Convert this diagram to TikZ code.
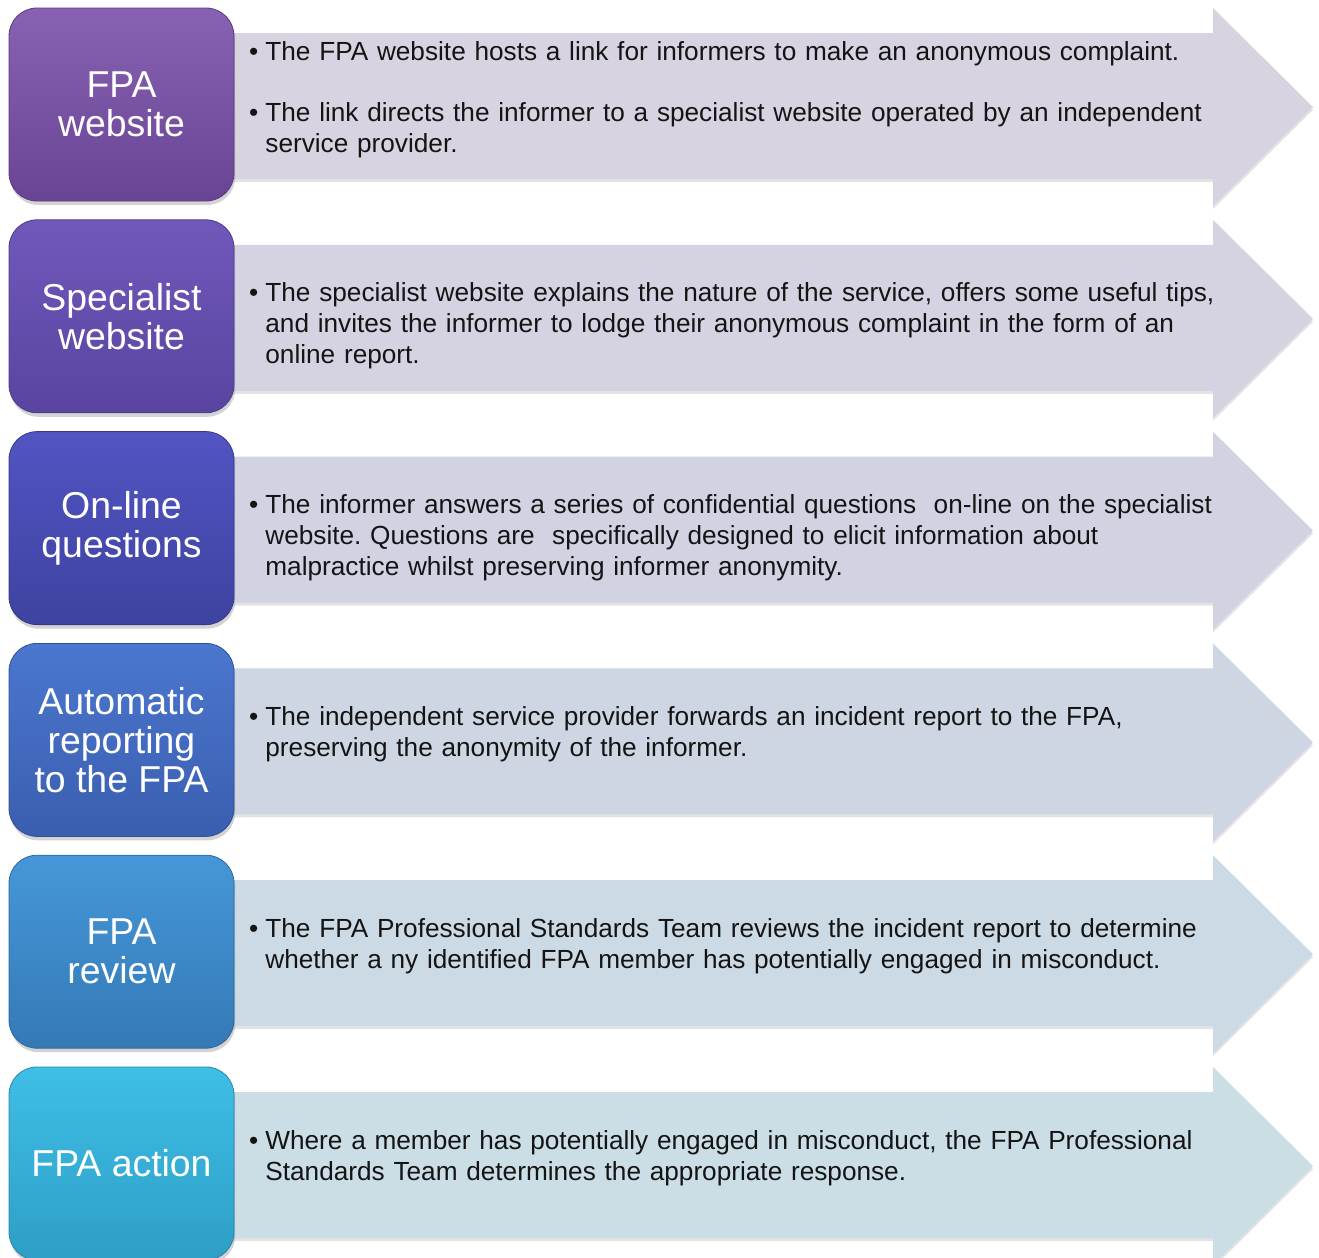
\documentclass[tikz,border=0pt]{standalone}
\usepackage{fontspec}
\setmainfont{Liberation Sans}
\usetikzlibrary{shadows}

% step box gradients (top / bottom) and band fills
\definecolor{boxAt}{HTML}{8762B3}\definecolor{boxAb}{HTML}{6A4494}\definecolor{bandA}{HTML}{D8D3E0}
\definecolor{boxBt}{HTML}{7058BB}\definecolor{boxBb}{HTML}{5945A0}\definecolor{bandB}{HTML}{D5D3E1}
\definecolor{boxCt}{HTML}{5254C3}\definecolor{boxCb}{HTML}{3E43A0}\definecolor{bandC}{HTML}{D1D3E3}
\definecolor{boxDt}{HTML}{4B77CF}\definecolor{boxDb}{HTML}{3A5EAF}\definecolor{bandD}{HTML}{CED6E4}
\definecolor{boxEt}{HTML}{4697D9}\definecolor{boxEb}{HTML}{3479B6}\definecolor{bandE}{HTML}{CCDAE5}
\definecolor{boxFt}{HTML}{3EBFE6}\definecolor{boxFb}{HTML}{2E9EC6}\definecolor{bandF}{HTML}{CBDEE6}

\tikzset{
  stepbox/.style={rounded corners=14pt, minimum width=112.5pt, minimum height=96.5pt,
    inner sep=0pt, align=center, text=white,
    font=\fontsize{18.7}{19.5}\selectfont,
    drop shadow={shadow xshift=0.6pt, shadow yshift=-2pt, opacity=0.35}},
  band/.style={drop shadow={shadow xshift=0pt, shadow yshift=-1.5pt, opacity=0.22}},
  note/.style={anchor=base west, inner sep=0pt, align=left, text width=500pt,
    text=black!92, font=\fontsize{13.1}{15.5}\selectfont\frenchspacing},
}
\newcommand{\bul}{\leavevmode\llap{•\hspace{3.6pt}}}

\begin{document}
\begin{tikzpicture}[x=0.5pt, y=-0.5pt]
\useasboundingbox (0,0) rectangle (1319,1258);

% six rows: band arrow behind, step box on top
\foreach \i/\ct/\cb/\ca/\lbl in {
  0/boxAt/boxAb/bandA/{FPA\\website},
  1/boxBt/boxBb/bandB/{Specialist\\website},
  2/boxCt/boxCb/bandC/{On-line\\questions},
  3/boxDt/boxDb/bandD/{Automatic\\reporting\\to the FPA},
  4/boxEt/boxEb/bandE/{FPA\\review},
  5/boxFt/boxFb/bandF/{FPA action}}{
  \pgfmathsetmacro\dy{211.8*\i}
  \path[band, fill=\ca] (228,{33+\dy}) -- (1213,{33+\dy}) -- (1213,{8+\dy})
     -- (1313,{107+\dy}) -- (1213,{206+\dy}) -- (1213,{179+\dy}) -- (228,{179+\dy}) -- cycle;
  \node[stepbox, top color=\ct, bottom color=\cb, draw=\cb!85!black, line width=0.4pt]
     (b\i) at (121.5,{104.5+\dy}) {\lbl};
}

\node[note] (t0) at (265,61) {\bul The FPA website hosts a link for informers to make an anonymous complaint.\\[15pt]
  \bul The link directs the informer to a specialist website operated by an independent\\service provider.};
\node[note] (t1) at (265,{90+211.8}) {\bul The specialist website explains the nature of the service, offers some useful tips,\\
  and invites the informer to lodge their anonymous complaint in the form of an\\online report.};
\node[note] (t2) at (265,{90+2*211.8}) {\bul The informer answers a series of confidential questions\ \ on-line on the specialist\\
  website. Questions are\ \ specifically designed to elicit information about\\malpractice whilst preserving informer anonymity.};
\node[note] (t3) at (265,{90+3*211.8}) {\bul The independent service provider forwards an incident report to the FPA,\\
  preserving the anonymity of the informer.};
\node[note] (t4) at (265,{90+4*211.8}) {\bul The FPA Professional Standards Team reviews the incident report to determine\\
  whether a ny identified FPA member has potentially engaged in misconduct.};
\node[note] (t5) at (265,{90+5*211.8}) {\bul Where a member has potentially engaged in misconduct, the FPA Professional\\
  Standards Team determines the appropriate response.};
\end{tikzpicture}
\end{document}
